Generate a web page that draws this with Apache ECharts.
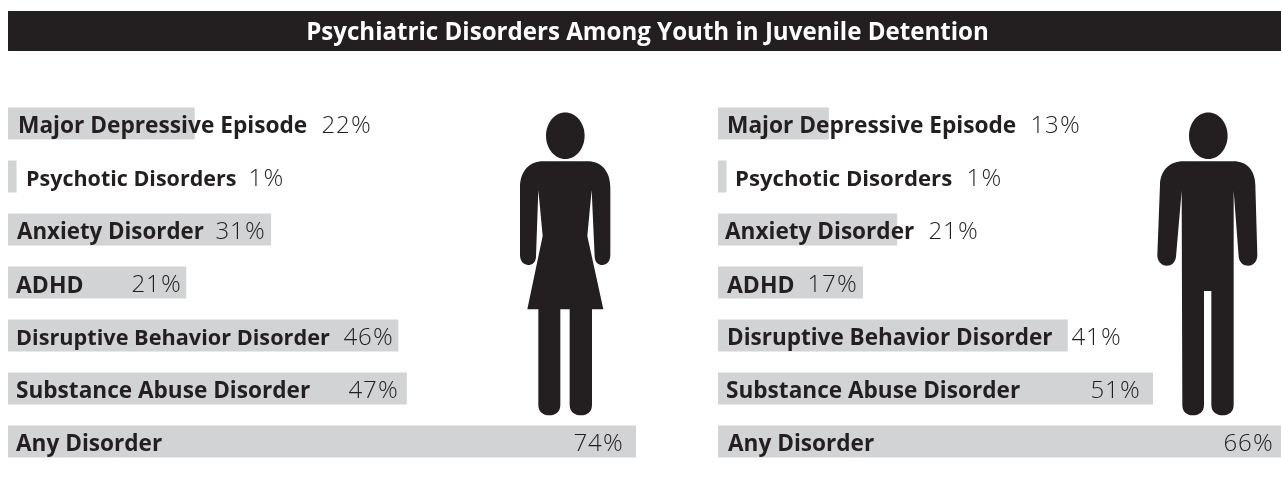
<!DOCTYPE html>
<html><head><meta charset="utf-8">
<style>html,body{margin:0;padding:0;background:#fff}#c{width:1281px;height:489px}</style>
<script src="https://cdn.jsdelivr.net/npm/echarts@6/dist/echarts.min.js"></script>
</head><body><div id="c"></div>
<script>
const chartTitle = 'Psychiatric Disorders Among Youth in Juvenile Detention';
const categories = ['Major Depressive Episode','Psychotic Disorders','Anxiety Disorder','ADHD','Disruptive Behavior Disorder','Substance Abuse Disorder','Any Disorder'];
const femaleValues = [22,1,31,21,46,47,74];
const maleValues = [13,1,21,17,41,51,66];

// layout only: left edge of each text in page pixels, and per-row name size
const femaleNameX = [18,26,17,16,16,16,16];
const femalePctX = [321,248,215,131,343,348,573];
const maleNameX = [727,735,725,727,727,726,728];
const malePctX = [1030,966,928,807,1071,1090,1223];
const femaleNameSize = [22.7,21.5,22.3,23,21.7,22.6,22.6];
const maleNameSize = [22.7,22.2,22.6,23,22.5,22.6,22.6];

const FONT = '"Open Sans"', INK = '#231f20', BAR = '#d1d3d4';
const grids = [{left:8,top:97,width:628,height:371},{left:718,top:97,width:563,height:371}];
const pctRich = {
  d:{width:14.5,align:'center',color:INK,fontFamily:FONT,fontWeight:300,fontSize:24},
  p:{color:INK,fontFamily:FONT,fontWeight:300,fontSize:24.5,padding:[0,0,0,1]}
};
const pctText = v => String(v).split('').map(c=>'{d|'+c+'}').join('')+'{p|%}';

function panel(i, values, nameX, pctX, nameSize, max){
  const gx = grids[i].left;
  const axes = {
    x:{type:'value',gridIndex:i,min:0,max:max,show:false},
    y:{type:'category',gridIndex:i,data:categories,inverse:true,show:false}
  };
  const common = {type:'bar',xAxisIndex:i,yAxisIndex:i,barWidth:32,barGap:'-100%',silent:true,animation:false};
  const nameSeries = Object.assign({},common,{
    itemStyle:{color:BAR},
    data:values.map((v,k)=>({value:v,label:{
      show:true,position:'insideLeft',distance:0,offset:[nameX[k]-gx,3.5],
      formatter:categories[k],color:INK,fontFamily:FONT,fontWeight:700,fontSize:nameSize[k]}}))
  });
  const pctSeries = Object.assign({},common,{
    itemStyle:{color:'rgba(0,0,0,0)'},
    data:values.map((v,k)=>({value:v,label:{
      show:true,position:'insideLeft',distance:0,offset:[pctX[k]-gx,2.5],
      formatter:pctText(v),rich:pctRich}}))
  });
  return {axes,series:[nameSeries,pctSeries]};
}
const f = panel(0,femaleValues,femaleNameX,femalePctX,femaleNameSize,74);
const m = panel(1,maleValues,maleNameX,malePctX,maleNameSize,66);

const woman = 'M130 184L262 184C305 184 331 215 331 262L331 465C331 485 320 495 307 495C295 495 285 487 284 470L275 270L262 408L310 628L276 628L276 915C276 935 262 946 243 946C224 946 209 935 209 915L209 628L181 628L181 915C181 935 167 946 148 946C129 946 115 935 115 915L115 628L82 628L128 408L115 270L108 470C107 487 97 495 85 495C72 495 60 485 60 465L60 262C60 215 87 184 130 184Z';
const man = 'M130 184L280 184C322 184 345 212 346 255L352 465C352 485 340 497 325 497C310 497 298 487 296 470L281 272L281 915C281 935 267 946 248 946C229 946 214 935 214 915L214 573L192 573L192 915C192 935 178 946 159 946C140 946 127 935 127 915L125 272L108 470C106 487 95 497 80 497C65 497 52 485 52 465L60 255C61 212 88 184 130 184Z';

const figures = {
  type:'custom',coordinateSystem:'none',silent:true,animation:false,data:[0],
  renderItem:()=>({type:'group',children:[
    {type:'path',shape:{pathData:woman,layout:'cover',x:520,y:161.33,width:90.33,height:254},style:{fill:INK}},
    {type:'path',shape:{pathData:man,layout:'cover',x:1157.33,y:161.33,width:100,height:254},style:{fill:INK}},
    {type:'ellipse',shape:{cx:565.3,cy:135.7,rx:19.3,ry:23.3},style:{fill:INK}},
    {type:'ellipse',shape:{cx:1208.3,cy:135.7,rx:19.3,ry:23.3},style:{fill:INK}}
  ]})
};

const chart = echarts.init(document.getElementById('c'),null,{renderer:'canvas'});
chart.setOption({
  backgroundColor:'#fff',animation:false,
  grid:grids,
  xAxis:[f.axes.x,m.axes.x],
  yAxis:[f.axes.y,m.axes.y],
  series:[...f.series,...m.series,figures],
  graphic:[
    {type:'rect',silent:true,shape:{x:8,y:11,width:1273,height:40},style:{fill:INK}},
    {type:'text',silent:true,x:647.5,y:33,style:{text:chartTitle,fill:'#fff',font:'700 24.1px "Open Sans"',align:'center',verticalAlign:'middle'}}
  ]
});
</script></body></html>
